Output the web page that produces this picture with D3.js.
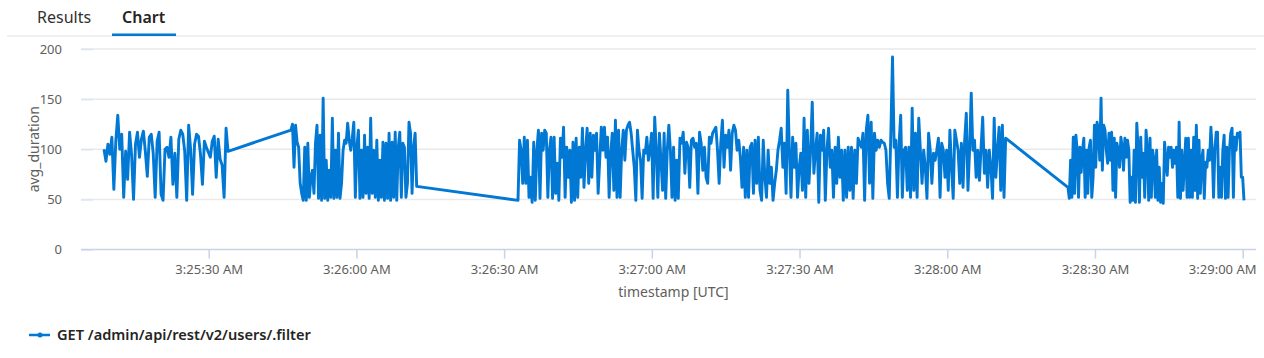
<!DOCTYPE html>
<html>
<head>
<meta charset="utf-8">
<script src="https://cdn.jsdelivr.net/npm/d3@7"></script>
<style>
  html, body { margin: 0; padding: 0; background: #ffffff; }
  svg { display: block; font-family: "Segoe UI", "Noto Sans", sans-serif; }
</style>
</head>
<body>
<svg id="chart" width="1264" height="358"></svg>
<script>
// ---------------- DATA ----------------
const tabLabels = ["Results", "Chart"];
const seriesName = "GET /admin/api/rest/v2/users/.filter";
const yTickValues = [0, 50, 100, 150, 200];
const xTickTimes = ["03:25:30", "03:26:00", "03:26:30", "03:27:00", "03:27:30", "03:28:00", "03:28:30", "03:29:00"];
const xDomainTimes = ["03:25:04.07", "03:29:02.70"];
const yDomain = [0, 200];

// contiguous sampling runs: start time, end time (UTC)
const runStarts = ["03:25:08.74", "03:25:46.71", "03:26:32.82", "03:27:05.71", "03:27:39.22", "03:28:24.51"];
const runEnds   = ["03:25:33.93", "03:26:12.24", "03:27:05.37", "03:27:38.88", "03:28:11.86", "03:29:00.26"];

const run1Values = [100,88,105,95,112,60,108,134,100,115,52,98,70,117,95,50,105,117,92,110,118,98,73,112,115,96,52,108,117,55,49,100,102,92,112,65,96,52,110,119,115,98,49,124,100,55,105,115,113,95,65,108,102,97,92,108,113,72,110,90,84,52,121,98];
const run2Values = [119,125,82,124,107,102,66,56,49,102,49,106,52,72,79,56,106,124,51,114,49,151,51,89,49,79,52,131,51,99,52,116,51,66,99,109,106,126,109,99,111,127,52,102,119,51,99,52,114,56,102,51,131,56,99,52,109,49,89,52,107,49,106,51,116,49,107,52,117,49,102,117,52,106,102,52,66,127,116,56,102,116,63];
const run3Values = [49,109,99,66,112,66,109,52,72,47,107,49,99,119,51,116,99,119,116,52,99,112,51,112,56,86,49,111,92,122,52,102,72,99,47,107,49,111,52,102,72,121,62,99,121,66,116,72,114,99,116,56,89,122,99,122,92,112,52,96,116,59,129,52,119,52,99,119,89,119,124,127,116,99,82,49,119,99,89,51,99,96,112,89,99,116,51,132,99,52,116,89,59,116,51,99,124,99,52,102,49,89,51];
const run4Values = [111,106,117,76,107,102,62,109,111,102,106,56,117,106,79,102,72,66,112,106,116,119,122,99,66,106,129,82,114,102,119,79,116,124,119,99,109,92,62,102,52,99,52,102,106,56,109,66,112,59,49,109,72,52,99,66,82,49,66,79,99,109,121,82,106,56,159,99,52,112,82,106,52,82,96,59,131,52,119,66,99,147,76,99,116,47,114,99,119,49,99,121,82,99,52,102,66,112,72,99,49];
const run5Values = [99,52,102,59,102,51,99,66,111,106,102,116,49,119,134,66,127,51,116,99,109,102,109,107,106,99,66,51,117,192,102,109,52,106,134,52,99,102,59,102,52,141,59,116,52,131,99,66,99,82,51,116,99,66,96,89,99,111,52,106,99,72,99,59,119,82,51,119,109,99,66,106,62,109,136,59,99,156,99,109,72,99,69,102,132,76,99,62,99,82,51,131,72,99,122,59,124,52,111];
const run6Values = [62,51,89,52,112,56,114,99,52,102,77,99,111,52,99,56,102,109,52,72,124,82,127,119,89,151,79,124,119,99,86,116,89,117,59,111,52,106,99,82,112,102,79,111,92,109,99,47,72,49,99,47,126,102,47,112,72,96,52,119,99,49,111,52,99,89,52,99,49,82,47,66,46,107,89,74,102,92,102,82,99,86,102,52,127,51,99,59,86,111,52,111,52,99,52,112,59,124,51,109,56,89,99,51,87,82,99,89,122,99,52,99,117,117,52,82,52,99,114,51,102,52,99,116,121,52,112,99,116,112,117,72,72,49];
const runValues = [run1Values, run2Values, run3Values, run4Values, run5Values, run6Values];

// ---------------- BUILD ----------------
const toDate = s => new Date("2024-01-01T" + s + "Z");
const points = [];
runValues.forEach((vals, r) => {
  const t0 = toDate(runStarts[r]).getTime();
  const t1 = toDate(runEnds[r]).getTime();
  const n = vals.length;
  vals.forEach((v, i) => {
    points.push({ t: new Date(t0 + (n > 1 ? i * (t1 - t0) / (n - 1) : 0)), v: v });
  });
});

const svg = d3.select("#chart");
const W = 1264, H = 358;
const plot = { left: 81, right: 1256, top: 49, bottom: 249.5 };
const FONT = '"Segoe UI", "Noto Sans", sans-serif';

const x = d3.scaleUtc().domain(xDomainTimes.map(toDate)).range([plot.left, plot.right]);
const y = d3.scaleLinear().domain(yDomain).range([plot.bottom, plot.top]);

// tabs
svg.append("line").attr("x1", 7).attr("x2", W).attr("y1", 36).attr("y2", 36)
  .attr("stroke", "#e1dfdd").attr("stroke-width", 1);
svg.append("text").attr("x", 37).attr("y", 23).attr("font-size", 16)
  .attr("fill", "#323130").text(tabLabels[0]);
svg.append("text").attr("x", 122).attr("y", 23).attr("font-size", 16).attr("font-weight", 600)
  .attr("fill", "#252423").text(tabLabels[1]);
svg.append("rect").attr("x", 112).attr("y", 33.5).attr("width", 64).attr("height", 2.5)
  .attr("fill", "#0078d4");

// gridlines
const grid = svg.append("g");
grid.selectAll("line.g").data(yTickValues.filter(d => d > 0)).join("line")
  .attr("x1", plot.left).attr("x2", plot.right)
  .attr("y1", d => y(d)).attr("y2", d => y(d))
  .attr("stroke", "#e9e9e9").attr("stroke-width", 1.5);

// y axis
const yAxis = svg.append("g").attr("transform", `translate(${plot.left},0)`)
  .call(d3.axisLeft(y).tickValues(yTickValues).tickSize(-12).tickPadding(19));
yAxis.select(".domain").remove();
yAxis.selectAll(".tick line").attr("stroke", "#dbe4f1").attr("stroke-width", 1.5);
yAxis.selectAll(".tick text").attr("fill", "#605e5c").attr("font-size", 13)
  .attr("font-family", FONT);

// x axis
const xAxis = svg.append("g").attr("transform", `translate(0,${plot.bottom})`)
  .call(d3.axisBottom(x).tickValues(xTickTimes.map(toDate)).tickSize(9).tickPadding(6)
    .tickFormat(d3.utcFormat("%-I:%M:%S %p")));
xAxis.select(".domain").attr("stroke", "#c8d3e6").attr("stroke-width", 1.5)
  .attr("d", `M${plot.left},0H${plot.right}`);
xAxis.selectAll(".tick line").attr("stroke", "#c8d3e6").attr("stroke-width", 1.5);
xAxis.selectAll(".tick text").attr("fill", "#605e5c").attr("font-size", 13)
  .attr("font-family", FONT);
// keep the last label inside the plot's right edge
xAxis.selectAll(".tick").filter((d, i, nodes) => i === nodes.length - 1)
  .select("text").attr("text-anchor", "end")
  .attr("x", function (d) { return plot.right - x(d); });

// axis titles
svg.append("text").attr("transform", `translate(39,${(plot.top + plot.bottom) / 2}) rotate(-90)`)
  .attr("text-anchor", "middle").attr("font-size", 14).attr("fill", "#605e5c").text("avg_duration");
svg.append("text").attr("x", (plot.left + plot.right) / 2 + 5).attr("y", 297)
  .attr("text-anchor", "middle").attr("font-size", 14).attr("fill", "#605e5c").text("timestamp [UTC]");

// series line
const line = d3.line().x(d => x(d.t)).y(d => y(d.v));
svg.append("path").datum(points)
  .attr("d", line).attr("fill", "none")
  .attr("stroke", "#0078d4").attr("stroke-width", 2.9).attr("stroke-linejoin", "round");

// legend
const lg = svg.append("g");
lg.append("line").attr("x1", 29).attr("x2", 50).attr("y1", 335).attr("y2", 335)
  .attr("stroke", "#0078d4").attr("stroke-width", 2.5);
lg.append("circle").attr("cx", 40).attr("cy", 335).attr("r", 2.5).attr("fill", "#0078d4");
lg.append("text").attr("x", 57).attr("y", 340).attr("font-size", 14.6).attr("font-weight", 600)
  .attr("fill", "#252423").text(seriesName);
</script>
</body>
</html>
